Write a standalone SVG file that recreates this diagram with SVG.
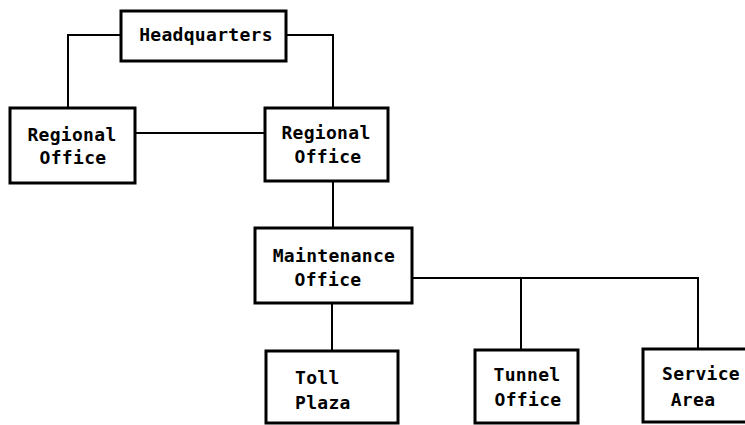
<svg xmlns="http://www.w3.org/2000/svg" width="745" height="425" viewBox="0 0 745 425">
<style>
.box{fill:#fff;stroke:#000;stroke-width:3}
.ln{fill:none;stroke:#000;stroke-width:2}
text{font-family:"DejaVu Sans Mono","Liberation Mono",monospace;font-weight:bold;font-size:18px;letter-spacing:0.3px;fill:#000}
.m{text-anchor:middle}
</style>
<rect width="745" height="425" fill="#fff"/>
<g id="connectors">
<path class="ln" d="M121 35 H68 V108"/>
<path class="ln" d="M286 35 H333 V108"/>
<path class="ln" d="M135 133 H265"/>
<path class="ln" d="M333 181 V228"/>
<path class="ln" d="M332 303 V351"/>
<path class="ln" d="M412 278 H698 V349"/>
<path class="ln" d="M521 278 V350"/>
</g>
<g id="hq">
<rect class="box" x="121" y="11" width="165" height="50"/>
<text class="m" x="206" y="41">Headquarters</text>
</g>
<g id="ro-left">
<rect class="box" x="10" y="108" width="125" height="75"/>
<text class="m" x="72" y="141">Regional</text>
<text class="m" x="73" y="164">Office</text>
</g>
<g id="ro-right">
<rect class="box" x="265" y="108" width="123" height="73"/>
<text class="m" x="326" y="139">Regional</text>
<text class="m" x="328" y="163">Office</text>
</g>
<g id="maintenance">
<rect class="box" x="255" y="228" width="157" height="75"/>
<text class="m" x="334" y="262">Maintenance</text>
<text class="m" x="328" y="286">Office</text>
</g>
<g id="toll">
<rect class="box" x="266" y="351" width="132" height="72"/>
<text x="295" y="384">Toll</text>
<text x="295" y="409">Plaza</text>
</g>
<g id="tunnel">
<rect class="box" x="475" y="350" width="103" height="73"/>
<text class="m" x="527" y="381">Tunnel</text>
<text class="m" x="528" y="406">Office</text>
</g>
<g id="service">
<rect class="box" x="643" y="349" width="110" height="73"/>
<text class="m" x="701" y="380">Service</text>
<text class="m" x="693" y="406">Area</text>
</g>
</svg>
